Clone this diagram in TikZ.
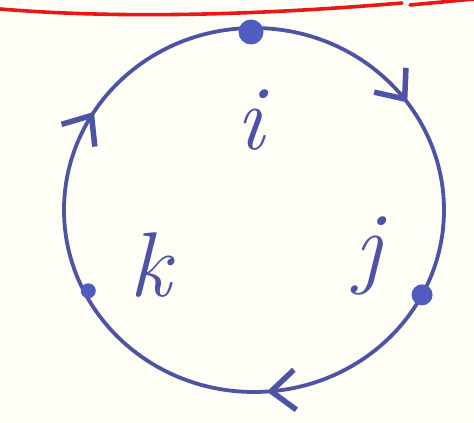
\documentclass[tikz,border=0pt]{standalone}
\usetikzlibrary{arrows.meta,decorations.markings,calc}
\definecolor{paper}{RGB}{255,254,246}
\definecolor{ink}{RGB}{78,84,165}
\definecolor{dotink}{RGB}{80,92,190}
\definecolor{redink}{RGB}{232,24,24}
\begin{document}
\begin{tikzpicture}[x=1pt,y=1pt,
  inkline/.style={draw=ink,line width=3.8pt},
  vertex/.style={circle,fill=dotink,inner sep=0pt,minimum size=#1},
  lbl/.style={text=ink,font=\fontsize{92}{92}\selectfont\itshape,anchor=base,inner sep=0pt},
  mybarb/.tip={Straight Barb[length=24pt,width=40pt,line width=5.5pt]}
]
\fill[paper] (0,0) rectangle (474,423);
\useasboundingbox (0,0) rectangle (474,423);
\coordinate (c) at (254,213);
% red stroke at top
\draw[redink,line width=3.6pt,line cap=round] (0,414) .. controls (120,404) and (260,408) .. (402,420);
\draw[redink,line width=3.6pt,line cap=round] (410,418) -- (474,424);
% circle, drawn clockwise from the top
\draw[inkline,
  postaction={decorate,decoration={markings,
    mark=at position 0.151 with {\arrow[ink]{mybarb}},
    mark=at position 0.489 with {\arrow[ink]{mybarb}},
    mark=at position 0.839 with {\arrow[ink]{mybarb}}}}]
  ($(c)+(0,182)$) arc[start angle=90,end angle=-270,x radius=190,y radius=182];
\node[vertex=25pt] (vi) at ($(c)+(-3,178)$) {};
\node[vertex=21pt] (vj) at ($(c)+({190*cos(-27.8)},{182*sin(-27.8)})$) {};
\node[vertex=15pt] (vk) at ($(c)+({186*cos(207)},{178*sin(207)})$) {};
\node[lbl] (li) at (250,273) {i};
\node[lbl] (lj) at (368,146) {j};
\node[lbl] (lk) at (150,126) {k};
\end{tikzpicture}
\end{document}
